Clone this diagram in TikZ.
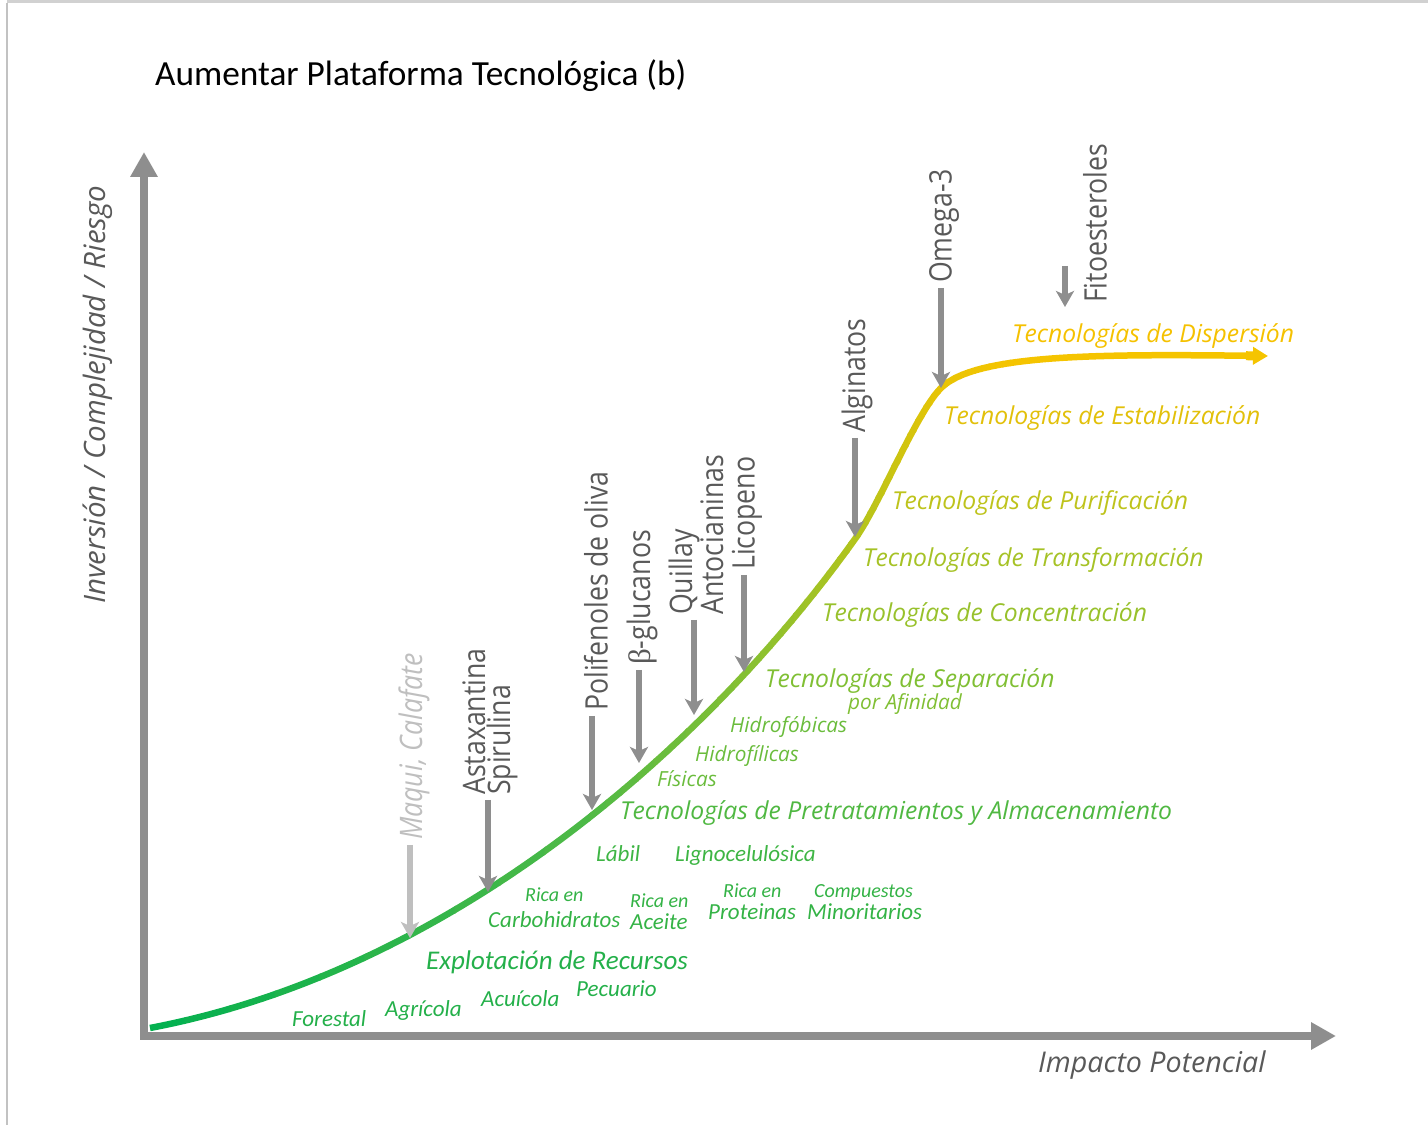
\documentclass[tikz,border=0pt]{standalone}
\usepackage{fontspec}
\setmainfont{Open Sans}
\newfontfamily\calfont{Carlito}
\newfontfamily\vfont[FakeStretch=0.86]{Open Sans}
\newfontfamily\grfont{Liberation Serif}
\usetikzlibrary{arrows.meta}

% curve colours, from start to end
\definecolor{gA}{RGB}{0,176,80}
\definecolor{gB}{RGB}{80,186,70}
\definecolor{gC}{RGB}{135,192,50}
\definecolor{gD}{RGB}{180,196,28}
\definecolor{gE}{RGB}{232,196,5}
\definecolor{gF}{RGB}{245,196,0}
% label colours
\definecolor{cRes}{RGB}{36,176,74}
\definecolor{cRica}{RGB}{52,179,70}
\definecolor{cLab}{RGB}{62,181,68}
\definecolor{cPre}{RGB}{80,184,66}
\definecolor{cSub}{RGB}{106,188,60}
\definecolor{cSep}{RGB}{128,191,52}
\definecolor{cCon}{RGB}{152,193,44}
\definecolor{cTra}{RGB}{166,194,38}
\definecolor{cPur}{RGB}{190,195,28}
\definecolor{cEst}{RGB}{226,192,10}
\definecolor{cDisp}{RGB}{245,193,0}
\definecolor{labgray}{RGB}{89,89,89}
\definecolor{arrgray}{RGB}{142,142,142}
\definecolor{softgray}{RGB}{191,191,191}

\newcommand\scurve{(150,97) .. controls (450,154) and (705,376) .. (855,586)
    .. controls (880,621) and (916,712) .. (941,737)
    .. controls (975,771) and (1100,771) .. (1268,769)}

\begin{document}
\begin{tikzpicture}[
    x=1pt, y=1pt,
    axis/.style={draw=arrgray, line width=8pt, -{Triangle[length=25pt, width=26pt]}},
    curveline/.style={line width=6.5pt, -{Rectangle[open, length=7pt, width=9pt, line width=1.5pt] Triangle[length=15pt, width=17pt]}},
    downarrow/.style={draw=arrgray, line width=6pt, -{Stealth[length=16pt, width=18pt, inset=4pt]}, shorten <=5pt},
    vlab/.style={rotate=90, anchor=west, inner sep=0pt, text=labgray, align=left, font=\vfont\fontsize{31}{23}\selectfont},
    tech/.style={anchor=base west, inner sep=0pt, font=\itshape\fontsize{24.7}{28}\selectfont},
    subtech/.style={anchor=base west, inner sep=0pt, font=\itshape\fontsize{20.8}{24}\selectfont, text=cSub},
    res/.style={anchor=base west, inner sep=0pt, font=\calfont\itshape\fontsize{23}{27}\selectfont, text=cRica},
    ressmall/.style={anchor=base west, inner sep=0pt, font=\calfont\itshape\fontsize{20}{24}\selectfont, text=cRica}
]
    \useasboundingbox (0,0) rectangle (1428,1125);
    % page frame
    \fill[black!18] (7,1122) rectangle (1428,1125);
    \fill[black!24] (6,0) rectangle (8,1122);

    % title
    \node[anchor=base west, inner sep=0pt, font=\calfont\fontsize{35.3}{40}\selectfont] (title) at (155,1039) {Aumentar Plataforma Tecnológica (b)};

    % axes
    \coordinate (yStart) at (144,85);
    \coordinate (yTip) at (144,973);
    \coordinate (xStart) at (140,89);
    \coordinate (xTip) at (1336,89);
    \draw[axis] (yStart) -- (yTip);
    \draw[axis] (xStart) -- (xTip);
    \node[rotate=90, anchor=west, inner sep=0pt, text=labgray, font=\itshape\fontsize{29.5}{32}\selectfont] (yLab) at (98,521) {Inversión / Complejidad / Riesgo};
    \node[anchor=base west, inner sep=0pt, text=labgray, font=\itshape\fontsize{28.6}{32}\selectfont] (xLab) at (1038,52) {Impacto Potencial};

    % curve, coloured strip by strip
    \foreach \xa/\xb/\ca/\cb in {140/590/gA/gB, 590/750/gB/gC, 750/860/gC/gD, 860/940/gD/gE, 940/1010/gE/gF}{
        \foreach \k in {0,...,9}{
            \pgfmathsetmacro\xl{\xa+(\xb-\xa)*\k/10-0.6}
            \pgfmathsetmacro\xr{\xa+(\xb-\xa)*(\k+1)/10+0.6}
            \pgfmathtruncatemacro\pc{95-10*\k}
            \begin{scope}
                \clip (\xl,0) rectangle (\xr,1125);
                \draw[curveline, draw=\ca!\pc!\cb] \scurve;
            \end{scope}
        }
    }
    \begin{scope}
        \clip (1009.5,0) rectangle (1428,1125);
        \draw[curveline, draw=gF] \scurve;
    \end{scope}

    % points on the curve
    \coordinate (onMaq) at (410,187);
    \coordinate (onAst) at (488,233);
    \coordinate (onPol) at (592,315);
    \coordinate (onBeta) at (639,362);
    \coordinate (onQui) at (694,410);
    \coordinate (onLic) at (744,453);
    \coordinate (onAlg) at (855,588);
    \coordinate (onOme) at (941,737);
    \coordinate (fitTop) at (1065,859);
    \coordinate (fitTip) at (1065,818);

    % products
    \node[vlab, text=softgray] (lMaq) at (414,285) {\itshape Maqui, Calafate};
    \node[vlab] (lAst) at (490,330) {Astaxantina\\Spirulina};
    \node[vlab] (lPol) at (596,414) {Polifenoles de oliva};
    \node[vlab] (lBeta) at (642,460) {{\grfont β}-glucanos};
    \node[vlab] (lQui) at (696,510) {Quillay\\Antocianinas};
    \node[vlab] (lLic) at (747,555) {Licopeno};
    \node[vlab] (lAlg) at (857,692) {Alginatos};
    \node[vlab] (lOme) at (944,842) {Omega-3};
    \node[vlab] (lFit) at (1095,822) {Fitoesteroles};

    \draw[downarrow, draw=softgray] (lMaq.west -| onMaq) -- (onMaq);
    \draw[downarrow] (lAst.west -| onAst) -- (onAst);
    \draw[downarrow] (lPol.west -| onPol) -- (onPol);
    \draw[downarrow] (lBeta.west -| onBeta) -- (onBeta);
    \draw[downarrow] (lQui.west -| onQui) -- (onQui);
    \draw[downarrow] (lLic.west -| onLic) -- (onLic);
    \draw[downarrow] (lAlg.west -| onAlg) -- (onAlg);
    \draw[downarrow] (lOme.west -| onOme) -- (onOme);
    \draw[downarrow, shorten <=0pt] (fitTop) -- (fitTip);

    % technology stages
    \node[tech, text=cDisp] (tDisp) at (1012,782) {Tecnologías de Dispersión};
    \node[tech, text=cEst] (tEst) at (944,700) {Tecnologías de Estabilización};
    \node[tech, text=cPur] (tPur) at (892,615) {Tecnologías de Purificación};
    \node[tech, text=cTra] (tTra) at (863,558) {Tecnologías de Transformación};
    \node[tech, text=cCon] (tCon) at (822,503) {Tecnologías de Concentración};
    \node[tech, text=cSep] (tSep) at (765,437) {Tecnologías de Separación};
    \node[subtech, text=cSep] (tAfi) at (848,415) {por Afinidad};
    \node[subtech] (tHfb) at (730,392) {Hidrofóbicas};
    \node[subtech] (tHfl) at (695,363) {Hidrofílicas};
    \node[subtech] (tFis) at (657,338) {Físicas};
    \node[tech, text=cPre] (tPre) at (620,305) {Tecnologías de Pretratamientos y Almacenamiento};

    % raw materials
    \node[res, text=cLab] (rLab) at (596,263) {Lábil};
    \node[res, text=cLab] (rLig) at (675,263) {Lignocelulósica};
    \node[ressmall] (rRica1) at (525,223) {Rica en};
    \node[res] (rCarb) at (488,197) {Carbohidratos};
    \node[ressmall] (rRica2) at (630,217) {Rica en};
    \node[res] (rAce) at (630,195) {Aceite};
    \node[ressmall] (rRica3) at (723,227) {Rica en};
    \node[res] (rProt) at (708,205) {Proteinas};
    \node[ressmall] (rComp) at (814,227) {Compuestos};
    \node[res] (rMin) at (807,205) {Minoritarios};
    \node[res, text=cRes, font=\calfont\itshape\fontsize{27}{31}\selectfont] (rExp) at (426,155) {Explotación de Recursos};
    \node[res, text=cRes] (rFor) at (292,98) {Forestal};
    \node[res, text=cRes] (rAgr) at (385,108) {Agrícola};
    \node[res, text=cRes] (rAcu) at (481,118) {Acuícola};
    \node[res, text=cRes] (rPec) at (576,128) {Pecuario};
\end{tikzpicture}
\end{document}
